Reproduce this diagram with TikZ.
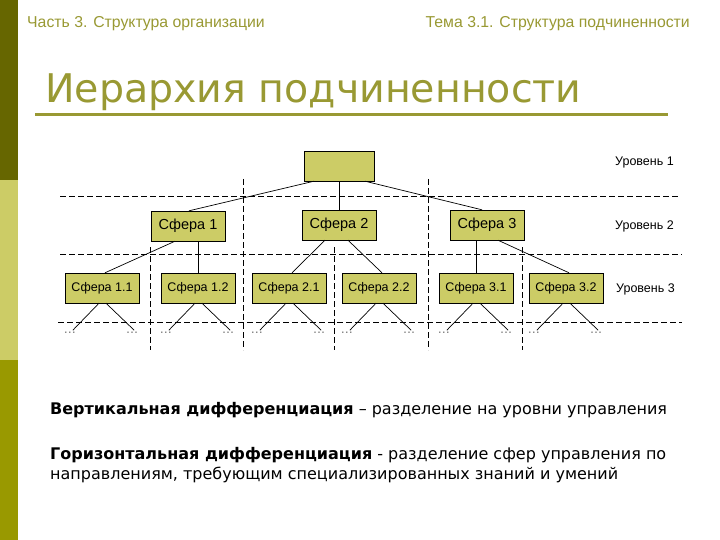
\documentclass[tikz,border=0pt]{standalone}
\usepackage{fontspec}
\setmainfont{DejaVu Sans}
\newfontfamily\arialfont{Liberation Sans}
\usetikzlibrary{positioning}
\definecolor{barDark}{HTML}{666600}
\definecolor{barLight}{HTML}{CCCC66}
\definecolor{barMid}{HTML}{999900}
\definecolor{olive}{HTML}{999933}
\definecolor{boxfill}{HTML}{CCCC66}
\definecolor{dotgray}{HTML}{777777}
\begin{document}
\begin{tikzpicture}[x=1pt, y=-1pt, thin,
    sphere/.style={draw, fill=boxfill, minimum width=74pt, minimum height=30pt, inner sep=0pt,
      font=\arialfont\fontsize{12.5}{14}\selectfont},
    bigsphere/.style={sphere, font=\arialfont\fontsize{14.5}{17}\selectfont},
    levelsep/.style={dashed, dash pattern=on 6pt off 3pt, line width=0.8pt},
    levellabel/.style={anchor=west, inner sep=0pt, font=\arialfont\fontsize{12.5}{14}\selectfont},
    dots/.style={inner sep=0pt, text=dotgray, font=\fontsize{12}{12}\selectfont},
    link/.style={line width=0.7pt},
    note/.style={anchor=base west, inner sep=0pt, font=\fontsize{16}{19}\selectfont}]
  \useasboundingbox (0,0) rectangle (720,540);
  \fill[white] (0,0) rectangle (720,540);

  % 1. Полоса слева
  \fill[barDark] (0,0) rectangle (18,180);
  \fill[barLight] (0,180) rectangle (18,360);
  \fill[barMid] (0,360) rectangle (18,540);

  % 2. Колонтитулы и заголовок
  \node[anchor=base west, inner sep=0pt, text=olive, font=\arialfont\fontsize{15.8}{18}\selectfont]
    (part) at (27,28) {Часть 3. Структура организации};
  \node[anchor=base east, inner sep=0pt, text=olive, font=\arialfont\fontsize{15.8}{18}\selectfont]
    (topic) at (690,28) {Тема 3.1. Структура подчиненности};
  \node[anchor=base west, inner sep=0pt, text=olive, font=\fontsize{39.5}{44}\selectfont]
    (title) at (45,103) {Иерархия подчиненности};
  \draw[olive, line width=3pt] (35,115) -- (668,115);

  % 3. Границы уровней и сфер (пунктир)
  \draw[levelsep] (60,196) -- (678,196);
  \draw[levelsep] (60,254) -- (682,254);
  \draw[levelsep] (58,322) -- (682,322);
  \foreach \x in {243,428}
    \draw[levelsep] (\x,179) -- (\x,350);
  \foreach \x in {150,334,522}
    \draw[levelsep] (\x,247) -- (\x,350);

  % 4. Узлы иерархии
  \node[sphere, minimum width=70pt] (top) at (339,166) {};
  \node[bigsphere] (s1) at (188,226) {Сфера 1};
  \node[bigsphere] (s2) at (339,225) {Сфера 2};
  \node[bigsphere] (s3) at (487,225) {Сфера 3};
  \node[sphere] (s11) at (102,288) {Сфера 1.1};
  \node[sphere] (s12) at (198,288) {Сфера 1.2};
  \node[sphere] (s21) at (289,288) {Сфера 2.1};
  \node[sphere] (s22) at (379,288) {Сфера 2.2};
  \node[sphere] (s31) at (476,288) {Сфера 3.1};
  \node[sphere] (s32) at (566,288) {Сфера 3.2};

  \node[levellabel] (lev1) at (615,162) {Уровень 1};
  \node[levellabel] (lev2) at (615,226) {Уровень 2};
  \node[levellabel] (lev3) at (616,289) {Уровень 3};

  % 5. Связи подчинения
  \draw[link] ([xshift=-25pt]top.south) -- ([xshift=1pt]s1.north);
  \draw[link] (top.south) -- (s2.north);
  \draw[link] ([xshift=26pt]top.south) -- ([xshift=-5pt]s3.north);
  \draw[link] ([xshift=-13pt]s1.south) -- ([xshift=3pt]s11.north);
  \draw[link] (s12.north) -- (s12.north |- s1.south);
  \draw[link] ([xshift=-14pt]s2.south) -- ([xshift=3pt]s21.north);
  \draw[link] ([xshift=9pt]s2.south) -- ([xshift=3pt]s22.north);
  \draw[link] (s31.north) -- (s31.north |- s3.south);
  \draw[link] ([xshift=11pt]s3.south) -- ([xshift=3pt]s32.north);

  % 6. Нижележащие уровни
  \foreach \s in {s11,s12,s21,s22,s31,s32} {
    \node[dots] (\s l) at ([xshift=5pt, yshift=-30pt]\s.south west) {\dots};
    \node[dots] (\s r) at ([xshift=-7pt, yshift=-30pt]\s.south east) {\dots};
    \draw[link] ([xshift=-3pt]\s.south) -- ([xshift=3pt, yshift=2pt]\s l.north);
    \draw[link] ([xshift=4pt]\s.south) -- ([xshift=2pt, yshift=2pt]\s r.north);
  }

  % 7. Пояснения
  \node[note] (vert) at (50,414)
    {\textbf{Вертикальная дифференциация} – разделение на уровни управления};
  \node[note] (hor1) at (50,459)
    {\textbf{Горизонтальная дифференциация} - разделение сфер управления по};
  \node[note] (hor2) at (50,479)
    {направлениям, требующим специализированных знаний и умений};
\end{tikzpicture}
\end{document}
